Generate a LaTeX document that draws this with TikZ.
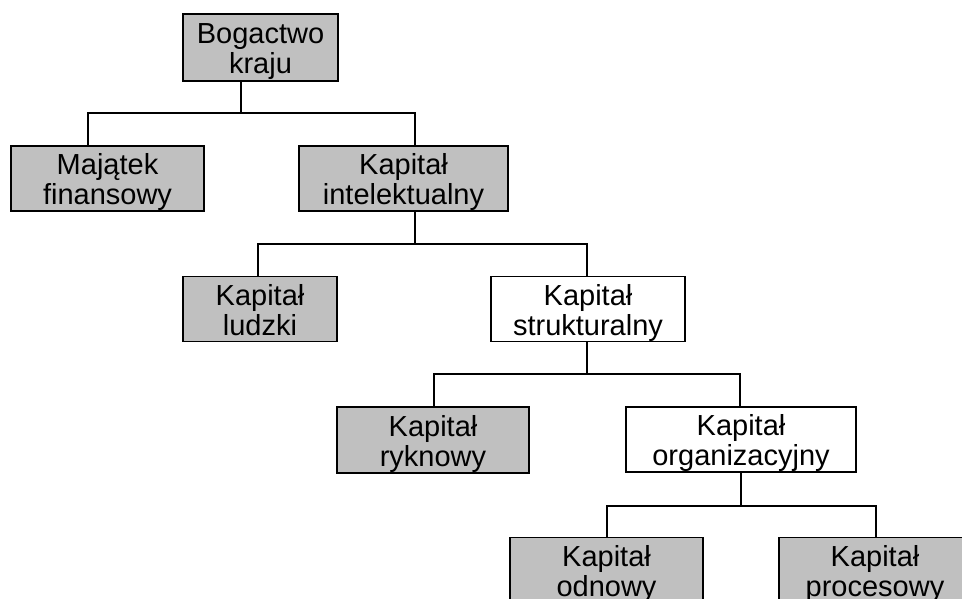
\documentclass[tikz,border=0pt]{standalone}
\usepackage{fontspec}
\setmainfont{Liberation Sans}
\definecolor{boxgray}{HTML}{C0C0C0}
\newcommand\twol[2]{\rule{0pt}{29pt}#1\\#2\rule[-6pt]{0pt}{6pt}}
\begin{document}
\begin{tikzpicture}[x=1pt,y=-1pt,
  box/.style={draw=black, line width=1.5pt, fill=boxgray, inner sep=0pt,
    align=center, font=\fontsize{29}{30}\selectfont},
  wbox/.style={box, fill=white},
  conn/.style={draw=black, line width=1.5pt}]
\useasboundingbox (0,0) rectangle (962,599);
% boxes
\node[box, minimum width=155pt, minimum height=67pt] (bog) at (260.5,47.5) {\twol{Bogactwo}{kraju}};
\node[box, minimum width=193pt, minimum height=65pt] (maj) at (107.5,178.5) {\twol{Majątek}{finansowy}};
\node[box, minimum width=209pt, minimum height=65pt] (int) at (403.5,178.5) {\twol{Kapitał}{intelektualny}};
\node[box, minimum width=154pt, minimum height=64pt] (lud) at (260,309) {\twol{Kapitał}{ludzki}};
\node[wbox, minimum width=194pt, minimum height=64pt] (str) at (588,309) {\twol{Kapitał}{strukturalny}};
\node[box, minimum width=192pt, minimum height=66pt] (ryk) at (433,440) {\twol{Kapitał}{ryknowy}};
\node[wbox, minimum width=230pt, minimum height=65pt] (org) at (741,439.5) {\twol{Kapitał}{organizacyjny}};
\node[box, minimum width=193pt, minimum height=65pt] (odn) at (606.5,570) {\twol{Kapitał}{odnowy}};
\node[box, minimum width=192pt, minimum height=65pt] (pro) at (875,570) {\twol{Kapitał}{procesowy}};
% junctions
\coordinate (j1) at (241,113);
\coordinate (a1) at (88,113);
\coordinate (b1) at (415,113);
\coordinate (j2) at (415,244);
\coordinate (a2) at (258,244);
\coordinate (b2) at (587,244);
\coordinate (j3) at (587,374);
\coordinate (a3) at (434,374);
\coordinate (b3) at (740,374);
\coordinate (j4) at (741,506);
\coordinate (a4) at (607,506);
\coordinate (b4) at (876,506);
% connectors
\draw[conn] (bog.south -| j1) -- (j1);
\draw[conn] (maj.north -| a1) -- (a1) -- (b1) -- (int.north -| b1);
\draw[conn] (int.south -| j2) -- (j2);
\draw[conn] (lud.north -| a2) -- (a2) -- (b2) -- (str.north -| b2);
\draw[conn] (str.south -| j3) -- (j3);
\draw[conn] (ryk.north -| a3) -- (a3) -- (b3) -- (org.north -| b3);
\draw[conn] (org.south -| j4) -- (j4);
\draw[conn] (odn.north -| a4) -- (a4) -- (b4) -- (pro.north -| b4);
\end{tikzpicture}
\end{document}
